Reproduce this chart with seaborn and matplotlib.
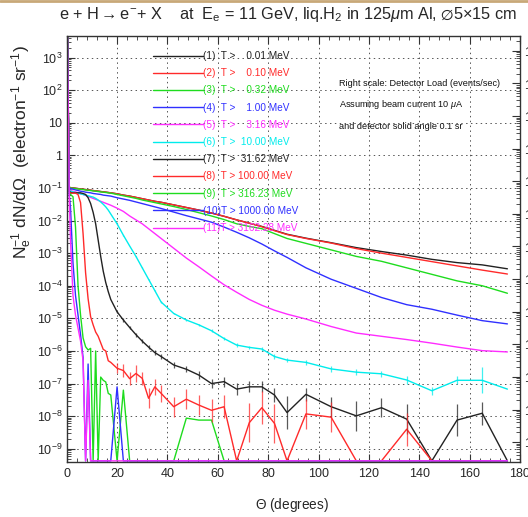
import numpy as np
import pandas as pd
import matplotlib
matplotlib.use("Agg")
import matplotlib.pyplot as plt
import seaborn as sns
from matplotlib.ticker import LogLocator, MultipleLocator, FuncFormatter, NullFormatter
from matplotlib.lines import Line2D

# ---------------- data (log10 of N_e^-1 dN/dOmega, None = empty bin) ----------------
THETA = [0.25, 1.0, 1.5, 2.5, 3.5, 4.5, 5.5, 6.5, 7.5, 8.5, 9.5, 10.5, 11.5, 12.5, 13.5,
         14.5, 15.5, 16.5, 17.5, 20, 22.5, 25, 27.5, 30, 32.5, 35, 37.5, 42.5, 47.5, 52.5,
         57.5, 62.5, 67.5, 72.5, 77.5, 82.5, 87.5, 95, 105, 115, 125, 135, 145, 155, 165, 175]

LABELS = ["(1)  T >    0.01 MeV", "(2)  T >    0.10 MeV", "(3)  T >    0.32 MeV",
          "(4)  T >    1.00 MeV", "(5)  T >    3.16 MeV", "(6)  T >  10.00 MeV",
          "(7)  T >  31.62 MeV", "(8)  T > 100.00 MeV", "(9)  T > 316.23 MeV",
          "(10)T > 1000.00 MeV", "(11)T > 3162.28 MeV"]
COLORS = ["#222222", "#ff2a2a", "#1edc1e", "#3030ff", "#ff2cff", "#00ecec",
          "#222222", "#ff2a2a", "#1edc1e", "#3030ff", "#ff2cff"]

LOG_T001 = [4.0, -0.98, -0.99, -1.0, -1.01, -1.02, -1.03, -1.04, -1.05, -1.06, -1.07, -1.08, -1.09,
            -1.1, -1.11, -1.12, -1.13, -1.14, -1.15, -1.18, -1.22, -1.25, -1.29, -1.33, -1.37, -1.41,
            -1.44, -1.52, -1.6, -1.68, -1.77, -1.87, -1.98, -2.08, -2.18, -2.3, -2.42, -2.54, -2.68,
            -2.83, -2.95, -3.06, -3.19, -3.29, -3.36, -3.48]
LOG_T010 = [4.0, -0.98, -0.99, -1.0, -1.01, -1.02, -1.03, -1.04, -1.05, -1.06, -1.07, -1.08, -1.09,
            -1.1, -1.11, -1.12, -1.13, -1.14, -1.15, -1.18, -1.22, -1.25, -1.29, -1.33, -1.37, -1.41,
            -1.44, -1.52, -1.6, -1.68, -1.77, -1.87, -1.98, -2.08, -2.19, -2.31, -2.43, -2.55, -2.69,
            -2.86, -3.0, -3.13, -3.26, -3.39, -3.52, -3.64]
LOG_T032 = [4.0, -0.99, -1.0, -1.01, -1.02, -1.03, -1.04, -1.05, -1.06, -1.07, -1.08, -1.09, -1.1,
            -1.11, -1.12, -1.13, -1.14, -1.15, -1.16, -1.2, -1.24, -1.28, -1.32, -1.37, -1.41, -1.45,
            -1.49, -1.57, -1.66, -1.76, -1.86, -1.97, -2.1, -2.18, -2.25, -2.4, -2.55, -2.7, -2.9,
            -3.1, -3.25, -3.45, -3.65, -3.85, -4.0, -4.23]
LOG_T100 = [4.0, -1.0, -1.02, -1.04, -1.06, -1.08, -1.1, -1.11, -1.13, -1.14, -1.15, -1.17, -1.18,
            -1.19, -1.2, -1.22, -1.23, -1.24, -1.25, -1.3, -1.34, -1.38, -1.43, -1.48, -1.53, -1.58,
            -1.63, -1.74, -1.85, -1.95, -2.05, -2.2, -2.36, -2.53, -2.72, -2.93, -3.13, -3.45, -3.8,
            -4.08, -4.36, -4.58, -4.72, -4.9, -5.07, -5.17]
LOG_T316 = [4.0, -1.05, -1.08, -1.1, -1.12, -1.15, -1.18, -1.2, -1.23, -1.26, -1.29, -1.32, -1.35,
            -1.38, -1.41, -1.44, -1.47, -1.5, -1.53, -1.62, -1.72, -1.86, -1.98, -2.1, -2.25, -2.4,
            -2.55, -2.85, -3.15, -3.42, -3.7, -3.97, -4.2, -4.42, -4.6, -4.75, -4.87, -5.02, -5.25,
            -5.45, -5.55, -5.65, -5.76, -5.88, -5.99, -6.03]
LOG_T1000 = [4.0, -1.06, -1.1, -1.12, -1.14, -1.16, -1.18, -1.2, -1.22, -1.24, -1.26, -1.28, -1.32,
             -1.37, -1.43, -1.5, -1.58, -1.68, -1.8, -2.1, -2.45, -2.78, -3.1, -3.45, -3.8, -4.15,
             -4.5, -4.85, -5.05, -5.2, -5.38, -5.62, -5.82, -5.89, -5.94, -6.17, -6.28, -6.35, -6.55,
             -6.65, -6.7, -6.89, -7.22, -6.9, -6.9, -7.17]
LOG_T3162 = [4.0, -1.1, -1.14, -1.15, -1.15, -1.15, -1.15, -1.17, -1.2, -1.3, -1.48, -1.75, -2.1,
             -2.6, -3.1, -3.55, -3.9, -4.18, -4.42, -4.8, -5.05, -5.28, -5.5, -5.7, -5.88, -6.05,
             -6.17, -6.43, -6.56, -6.74, -7.0, -6.94, -7.17, -7.1, -7.1, -7.35, -7.89, -7.33, -7.71,
             -7.99, -7.74, -8.09, None, -8.12, -7.91, None]
LOG_T10000 = [4.0, -1.12, -1.16, -1.16, -1.16, -1.2, -1.45, -2.4, -3.6, -4.4, -4.95, -5.2, -5.42,
              -5.55, -5.75, -5.95, -6.0, -6.3, -6.35, -6.53, -6.6, -6.85, -6.69, -6.84, -7.45, -7.1,
              -7.3, -7.71, -7.48, -7.66, -7.82, -7.71, None, -8.2, -7.74, -8.22, None, -7.93, -8.03,
              None, None, -8.4, None, None, None, None]
LOG_T31623 = [4.0, -1.15, -1.2, -1.27, -2.2, -4.0, -4.9, -5.6, -5.87, -5.97, -5.92, None, -6.0,
              None, -6.8, -6.9, -6.95, -7.3, -7.35, None, -7.2, None, None, None, None, None, None,
              None, -8.06, -8.12, -8.12, None, None, None, None, None, None, None, None, None, None,
              None, None, None, None, None]
LOG_T100000 = [4.0, -1.2, -1.6, -3.3, -4.3, -4.9, -5.5, -6.2, None, -6.4, None, None, None, None,
               None, None, None, None, None, -7.1, None, None, None, None, None, None, None, None,
               None, None, None, None, None, None, None, None, None, None, None, None, None, None,
               None, None, None, None]
LOG_T316228 = [4.0, -1.25, -2.6, -4.3, -4.9, -5.3, -5.7, -6.3, None, -6.9, None, None, None, None,
               None, None, None, None, None, None, None, None, None, None, None, None, None, None,
               None, None, None, None, None, None, None, None, None, None, None, None, None, None,
               None, None, None, None]
SERIES = [LOG_T001, LOG_T010, LOG_T032, LOG_T100, LOG_T316, LOG_T1000, LOG_T3162,
          LOG_T10000, LOG_T31623, LOG_T100000, LOG_T316228]

# error half-widths (decades) for curves 6, 7, 8 from theta = 20 deg on
ERR_FROM = 19
ERR6 = [0.01, 0.01, 0.01, 0.01, 0.01, 0.01, 0.02, 0.02, 0.02, 0.03, 0.03, 0.04, 0.05, 0.05, 0.05,
        0.06, 0.07, 0.07, 0.08, 0.08, 0.09, 0.1, 0.13, 0.12, 0.12, 0.4, 0.0]
ERR7 = [0.04, 0.05, 0.05, 0.06, 0.06, 0.07, 0.07, 0.08, 0.08, 0.1, 0.12, 0.15, 0.15, 0.18, 0.17,
        0.17, 0.2, 0.5, 0.2, 0.3, 0.45, 0.3, 0.45, 0.0, 0.5, 0.35, 0.0]
ERR8 = [0.15, 0.2, 0.2, 0.25, 0.2, 0.3, 0.25, 0.25, 0.3, 0.3, 0.3, 0.35, 0.35, 0.0, 0.6, 0.5, 0.6,
        0.0, 0.45, 0.45, 0.0, 0.0, 0.5, 0.0, 0.0, 0.0, 0.0]
ERRS = {5: ERR6, 6: ERR7, 7: ERR8}

YLOG_MIN, YLOG_MAX = -9.39, 3.66
LOAD_FACTOR = 6.24e12   # 10 uA beam x 0.1 sr

# ---------------- style ----------------
sns.set_theme(style="ticks")
FONT = "Liberation Sans"
plt.rcParams["font.family"] = [FONT, "DejaVu Sans"]
plt.rcParams["mathtext.fontset"] = "custom"
plt.rcParams["mathtext.rm"] = FONT
plt.rcParams["mathtext.it"] = FONT + ":italic"
plt.rcParams["mathtext.bf"] = FONT + ":bold"
plt.rcParams["mathtext.sf"] = FONT

floor = 10 ** (YLOG_MIN + 0.02)
rows = []
for lab, vals in zip(LABELS, SERIES):
    for t, v in zip(THETA, vals):
        rows.append({"theta": t, "val": floor if v is None else 10.0 ** v, "series": lab})
df = pd.DataFrame(rows)

fig = plt.figure(figsize=(5.28, 5.17), dpi=100)
ax = fig.add_axes([66.7 / 528, 1 - 461.5 / 517, (520 - 66.7) / 528, (461.5 - 36) / 517])
ax.set_yscale("log")
sns.lineplot(data=df, x="theta", y="val", hue="series", hue_order=LABELS,
             palette=dict(zip(LABELS, COLORS)), estimator=None, sort=False,
             linewidth=1.0, ax=ax, legend=False)

for idx, errs in ERRS.items():
    vals = SERIES[idx][ERR_FROM:]
    th = THETA[ERR_FROM:]
    xs, lo, hi, ys = [], [], [], []
    for t, v, e in zip(th, vals, errs):
        if v is None or e <= 0:
            continue
        y = 10.0 ** v
        xs.append(t); ys.append(y)
        lo.append(y - 10.0 ** (v - e)); hi.append(10.0 ** (v + e) - y)
    ax.errorbar(xs, ys, yerr=[lo, hi], fmt="none", ecolor=COLORS[idx], elinewidth=0.9,
                capsize=0, alpha=0.75)

ax.set_xlim(0, 180)
ax.set_ylim(10 ** YLOG_MIN, 10 ** YLOG_MAX)


def yfmt(v, pos):
    e = int(round(np.log10(v)))
    if e == 0:
        return "1"
    if e == 1:
        return "10"
    return r"$10^{%d}$" % e


ax.xaxis.set_major_locator(MultipleLocator(20))
ax.xaxis.set_minor_locator(MultipleLocator(4))
ax.yaxis.set_major_locator(LogLocator(base=10, numticks=100))
ax.yaxis.set_minor_locator(LogLocator(base=10, subs=np.arange(2, 10), numticks=100))
ax.yaxis.set_major_formatter(FuncFormatter(yfmt))
ax.yaxis.set_minor_formatter(NullFormatter())
ax.tick_params(axis="both", which="both", direction="in", top=True, right=False,
               color="#333333")
ax.tick_params(which="major", length=6, width=0.8, labelsize=9, pad=3)
ax.tick_params(axis="x", which="major", pad=5)
ax.tick_params(which="minor", length=3, width=0.6)
ax.grid(which="major", linestyle=(0, (1.5, 3.5)), color="#555555", linewidth=0.7)
for s in ax.spines.values():
    s.set_color("#333333")
    s.set_linewidth(1.0)
ax.set_xlabel("")
ax.set_ylabel("")

# right scale: detector load
ax2 = ax.twinx()
ax2.set_yscale("log")
ax2.set_ylim(10 ** YLOG_MIN * LOAD_FACTOR, 10 ** YLOG_MAX * LOAD_FACTOR)
ax2.yaxis.set_major_locator(LogLocator(base=10, numticks=100))
ax2.yaxis.set_minor_locator(LogLocator(base=10, subs=np.arange(2, 10), numticks=100))
ax2.yaxis.set_major_formatter(FuncFormatter(yfmt))
ax2.yaxis.set_minor_formatter(NullFormatter())
ax2.tick_params(axis="y", which="both", direction="in", color="#333333", labelsize=9)
ax2.tick_params(which="major", length=6, width=0.8, pad=3)
ax2.tick_params(which="minor", length=3, width=0.6)
for s in ax2.spines.values():
    s.set_visible(False)

# legend
handles = [Line2D([], [], color=c, lw=1.0) for c in COLORS]
leg = ax.legend(handles, LABELS, loc="upper left", bbox_to_anchor=(153 / 528, 1 - 51 / 517),
                bbox_transform=fig.transFigure, frameon=False, fontsize=7.2,
                handlelength=5.0, handletextpad=0.0, labelspacing=0.72, borderpad=0,
                borderaxespad=0)
for txt, c in zip(leg.get_texts(), COLORS):
    txt.set_color(c)

# annotations
for yy, s in [(83, "Right scale: Detector Load (events/sec)"),
              (104.5, r"Assuming beam current 10 $\mu$A"),
              (126.5, "and detector solid angle 0.1 sr")]:
    fig.text(339 / 528, 1 - yy / 517, s, fontsize=6.6, va="center", ha="left",
             color="#111111")

fig.text(288 / 528, 1 - 14 / 517,
         r"e + H$\rightarrow$e$^{-}$+ X    at  E$_{\rm e}$ = 11 GeV, liq.H$_{2}$ in 125$\mu$m Al, $\varnothing$5$\times$15 cm",
         fontsize=11.7, ha="center", va="center")
fig.text(292 / 528, 1 - 505 / 517, r"$\Theta$ (degrees)", fontsize=9.8, ha="center",
         va="center")
fig.text(22 / 528, 1 - 45 / 517,
         r"N$_{\rm e}^{-1}$ dN/d$\Omega$  (electron$^{-1}$ sr$^{-1}$)", fontsize=12.5,
         rotation=90, ha="center", va="top")

fig.add_artist(Line2D([0, 1], [0.998, 0.998], transform=fig.transFigure, color="#c8a878",
                      lw=2))

fig.savefig("out.png", dpi=100, facecolor="white")
